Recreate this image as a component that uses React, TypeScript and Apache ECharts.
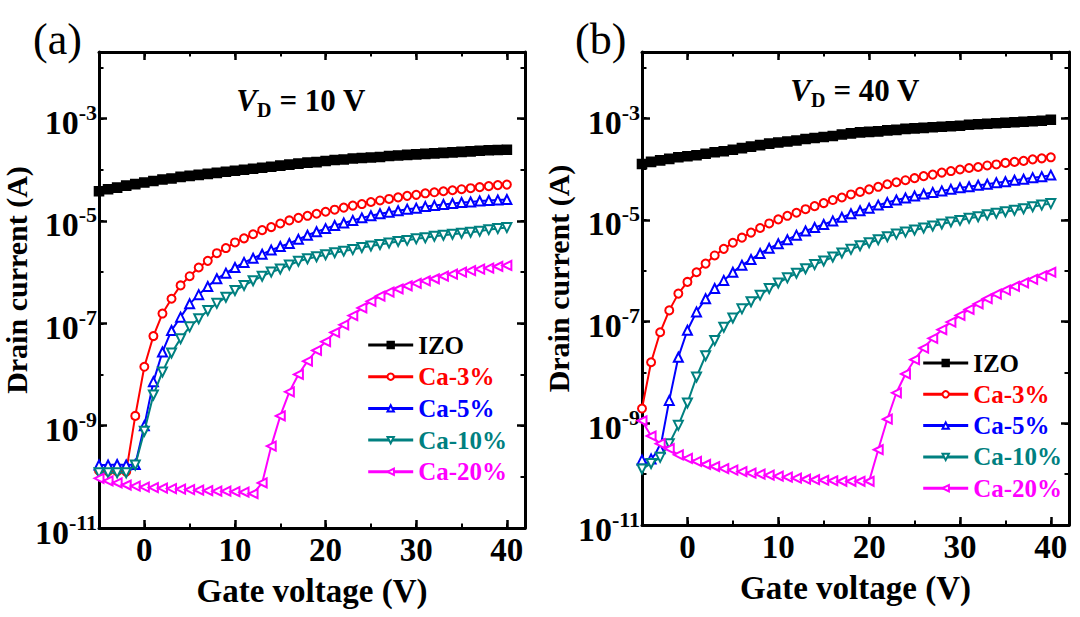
import React, { useEffect, useRef } from 'react';
import * as echarts from 'echarts';

const FONT = '"Liberation Serif", "Times New Roman", serif';

// Gate voltage (V), one point per volt
const gateVoltage = [
  -5, -4, -3, -2, -1, 0, 1, 2, 3, 4,
  5, 6, 7, 8, 9, 10, 11, 12, 13, 14,
  15, 16, 17, 18, 19, 20, 21, 22, 23, 24,
  25, 26, 27, 28, 29, 30, 31, 32, 33, 34,
  35, 36, 37, 38, 39, 40,
];

// Drain current, stored as log10(I / A)
// Panel (a): VD = 10 V
const izoVd10Log = [
  -4.42, -4.38, -4.35, -4.31, -4.28, -4.25, -4.22, -4.19, -4.17, -4.14,
  -4.12, -4.10, -4.08, -4.06, -4.04, -4.02, -4.00, -3.98, -3.96, -3.94,
  -3.92, -3.90, -3.88, -3.86, -3.85, -3.83, -3.81, -3.80, -3.78, -3.77,
  -3.76, -3.75, -3.73, -3.72, -3.71, -3.70, -3.69, -3.68, -3.67, -3.66,
  -3.65, -3.64, -3.63, -3.62, -3.615, -3.61,
];
const ca3Vd10Log = [
  -9.88, -9.89, -9.89, -9.90, -8.81, -7.85, -7.25, -6.81, -6.52, -6.26,
  -6.08, -5.91, -5.78, -5.63, -5.53, -5.42, -5.34, -5.26, -5.18, -5.12,
  -5.05, -4.99, -4.94, -4.90, -4.86, -4.82, -4.78, -4.74, -4.70, -4.67,
  -4.63, -4.60, -4.57, -4.54, -4.51, -4.49, -4.46, -4.44, -4.42, -4.40,
  -4.38, -4.36, -4.34, -4.32, -4.30, -4.29,
];
const ca5Vd10Log = [
  -9.77, -9.77, -9.76, -9.77, -9.76, -9.00, -8.14, -7.56, -7.14, -6.88,
  -6.62, -6.44, -6.28, -6.13, -6.02, -5.91, -5.81, -5.73, -5.65, -5.57,
  -5.50, -5.44, -5.36, -5.28, -5.21, -5.15, -5.09, -5.04, -4.99, -4.94,
  -4.90, -4.86, -4.83, -4.80, -4.77, -4.75, -4.72, -4.70, -4.68, -4.66,
  -4.64, -4.63, -4.61, -4.60, -4.59, -4.58,
];
const ca10Vd10Log = [
  -9.92, -9.92, -9.92, -9.92, -9.77, -9.11, -8.40, -7.95, -7.58, -7.30,
  -7.07, -6.91, -6.75, -6.61, -6.49, -6.36, -6.26, -6.17, -6.08, -6.00,
  -5.94, -5.86, -5.79, -5.74, -5.70, -5.66, -5.62, -5.59, -5.56, -5.52,
  -5.49, -5.46, -5.43, -5.40, -5.38, -5.35, -5.33, -5.30, -5.28, -5.26,
  -5.24, -5.22, -5.20, -5.17, -5.15, -5.13,
];
const ca20Vd10Log = [
  -10.03, -10.08, -10.12, -10.16, -10.18, -10.20, -10.21, -10.22, -10.23, -10.24,
  -10.25, -10.26, -10.27, -10.28, -10.28, -10.29, -10.30, -10.33, -10.12, -9.40,
  -8.81, -8.34, -8.00, -7.74, -7.53, -7.36, -7.18, -7.03, -6.85, -6.70,
  -6.57, -6.47, -6.39, -6.33, -6.27, -6.22, -6.17, -6.13, -6.08, -6.04,
  -6.00, -5.97, -5.94, -5.92, -5.89, -5.87,
];

// Panel (b): VD = 40 V
const izoVd40Log = [
  -3.90, -3.86, -3.83, -3.80, -3.77, -3.75, -3.73, -3.70, -3.67, -3.65,
  -3.62, -3.59, -3.56, -3.53, -3.50, -3.48, -3.46, -3.44, -3.41, -3.39,
  -3.37, -3.35, -3.32, -3.30, -3.28, -3.27, -3.26, -3.24, -3.23, -3.21,
  -3.20, -3.19, -3.18, -3.17, -3.16, -3.15, -3.13, -3.12, -3.11, -3.10,
  -3.09, -3.08, -3.07, -3.06, -3.05, -3.03,
];
const ca3Vd40Log = [
  -8.71, -7.80, -7.21, -6.78, -6.45, -6.22, -6.03, -5.86, -5.70, -5.57,
  -5.45, -5.35, -5.25, -5.16, -5.07, -4.99, -4.92, -4.86, -4.79, -4.73,
  -4.67, -4.61, -4.56, -4.50, -4.45, -4.40, -4.35, -4.30, -4.26, -4.22,
  -4.18, -4.14, -4.11, -4.07, -4.04, -4.01, -3.98, -3.96, -3.93, -3.91,
  -3.88, -3.86, -3.84, -3.81, -3.79, -3.77,
];
const ca5Vd40Log = [
  -9.72, -9.70, -9.50, -8.55, -7.70, -7.17, -6.81, -6.55, -6.35, -6.19,
  -6.03, -5.89, -5.78, -5.66, -5.56, -5.47, -5.39, -5.30, -5.22, -5.15,
  -5.09, -5.02, -4.95, -4.88, -4.82, -4.77, -4.71, -4.66, -4.61, -4.57,
  -4.53, -4.49, -4.46, -4.43, -4.40, -4.37, -4.35, -4.32, -4.30, -4.27,
  -4.25, -4.22, -4.20, -4.17, -4.15, -4.12,
];
const ca10Vd40Log = [
  -9.90, -9.79, -9.67, -9.40, -9.04, -8.60, -8.09, -7.67, -7.37, -7.11,
  -6.93, -6.75, -6.61, -6.48, -6.35, -6.24, -6.14, -6.05, -5.96, -5.88,
  -5.81, -5.73, -5.65, -5.58, -5.51, -5.45, -5.39, -5.33, -5.28, -5.24,
  -5.20, -5.16, -5.12, -5.08, -5.04, -5.01, -4.97, -4.94, -4.90, -4.87,
  -4.84, -4.81, -4.78, -4.74, -4.71, -4.68,
];
const ca20Vd40Log = [
  -8.95, -9.25, -9.40, -9.50, -9.62, -9.69, -9.75, -9.81, -9.85, -9.89,
  -9.92, -9.95, -9.98, -10.00, -10.02, -10.04, -10.06, -10.08, -10.10, -10.11,
  -10.12, -10.13, -10.14, -10.14, -10.14, -10.14, -9.52, -8.92, -8.40, -8.03,
  -7.75, -7.52, -7.33, -7.16, -7.01, -6.88, -6.76, -6.65, -6.55, -6.46,
  -6.38, -6.31, -6.24, -6.17, -6.10, -6.03,
];

const seriesNames = ['IZO', 'Ca-3%', 'Ca-5%', 'Ca-10%', 'Ca-20%'];
const seriesColors = ['#000000', '#ff0000', '#0000ff', '#008080', '#ff00ff'];
const seriesSymbols = ['rect', 'emptyCircle', 'emptyTriangle', 'emptyTriangle', 'emptyTriangle'];
const seriesSymbolRotate = [0, 0, 0, 180, 90];
const seriesSymbolSize = [9, 8, 9, 9, 9];

const panelLabels = ['(a)', '(b)'];
const drainVoltages = ['10', '40'];
const panelData = [
  [izoVd10Log, ca3Vd10Log, ca5Vd10Log, ca10Vd10Log, ca20Vd10Log],
  [izoVd40Log, ca3Vd40Log, ca5Vd40Log, ca10Vd40Log, ca20Vd40Log],
];

const xTickLabels = [0, 10, 20, 30, 40];
const yDecadeLabels = [-11, -9, -7, -5, -3];
const X_MIN = -5;
const X_MAX = 42;
const Y_MIN = 1e-11;
const Y_MAX = 2e-2;

// layout
const grids = [
  { left: 97, top: 52, width: 428, height: 476 },
  { left: 642, top: 52, width: 427, height: 473 },
];
const legendPos = [
  { left: 366.7, top: 332.5, gap: 6.7 },
  { left: 921.7, top: 350.5, gap: 6.3 },
];
const labelPos = [
  { x: 33, y: 39 },
  { x: 575, y: 39 },
];
const vdPos = [
  { x: 301, y: 100 },
  { x: 855, y: 90 },
];

const black = '#000';
const axisLineStyle = { color: black, width: 3 };

function buildOption(): any {
  const xAxis: any[] = [];
  const yAxis: any[] = [];
  const series: any[] = [];
  const legend: any[] = [];
  const graphic: any[] = [];

  grids.forEach((g, p) => {
    const baseX = {
      type: 'value',
      gridIndex: p,
      min: X_MIN,
      max: X_MAX,
      splitLine: { show: false },
    };
    // bottom major
    xAxis.push({
      ...baseX,
      position: 'bottom',
      splitNumber: 5,
      axisLine: { show: true, onZero: false, lineStyle: axisLineStyle },
      axisTick: { show: true, inside: true, length: 8, lineStyle: { color: black, width: 2.5 } },
      axisLabel: {
        show: true,
        margin: 5,
        color: black,
        fontFamily: FONT,
        fontWeight: 'bold',
        fontSize: 33,
        formatter: (v: number) => (xTickLabels.includes(v) ? String(v) : ''),
      },
      name: 'Gate voltage (V)',
      nameLocation: 'middle',
      nameGap: 46,
      nameTextStyle: { fontFamily: FONT, fontWeight: 'bold', fontSize: 33, color: black },
    });
    // bottom minor
    xAxis.push({
      ...baseX,
      position: 'bottom',
      interval: 5,
      axisLine: { show: false, onZero: false },
      axisTick: { show: true, inside: true, length: 4.5, lineStyle: { color: black, width: 2 } },
      axisLabel: { show: false },
    });
    // top major
    xAxis.push({
      ...baseX,
      position: 'top',
      splitNumber: 5,
      axisLine: { show: true, onZero: false, lineStyle: axisLineStyle },
      axisTick: { show: true, inside: true, length: 8, lineStyle: { color: black, width: 2.5 } },
      axisLabel: { show: false },
    });
    // top minor
    xAxis.push({
      ...baseX,
      position: 'top',
      interval: 5,
      axisLine: { show: false, onZero: false },
      axisTick: { show: true, inside: true, length: 4.5, lineStyle: { color: black, width: 2 } },
      axisLabel: { show: false },
    });

    const baseLog = {
      type: 'log',
      logBase: 10,
      gridIndex: p,
      min: Y_MIN,
      max: Y_MAX,
      splitLine: { show: false },
      minorTick: { show: false },
    };
    // left log axis (data axis)
    yAxis.push({
      ...baseLog,
      position: 'left',
      axisLine: { show: true, onZero: false, lineStyle: axisLineStyle },
      axisTick: { show: true, inside: true, length: 4.5, lineStyle: { color: black, width: 2 } },
      axisLabel: {
        show: true,
        margin: 2,
        formatter: (v: number) => {
          const lg = Math.log10(v);
          const e = Math.round(lg);
          if (Math.abs(lg - e) > 1e-6 || !yDecadeLabels.includes(e)) return '';
          return `{b|10}{s|${e}}`;
        },
        rich: {
          b: { fontFamily: FONT, fontWeight: 'bold', fontSize: 34, lineHeight: 34, padding: [8, 0, 0, 0], color: black },
          s: { fontFamily: FONT, fontWeight: 'bold', fontSize: 22, lineHeight: 32, verticalAlign: 'top', color: black },
        },
      },
      name: 'Drain current (A)',
      nameLocation: 'middle',
      nameRotate: 90,
      nameGap: 61,
      nameTextStyle: {
        fontFamily: FONT,
        fontWeight: 'bold',
        fontSize: 30,
        color: black,
        padding: [0, 0, 0, 20],
      },
    });
    // right log axis (mirror)
    yAxis.push({
      ...baseLog,
      position: 'right',
      axisLine: { show: true, onZero: false, lineStyle: axisLineStyle },
      axisTick: { show: true, inside: true, length: 4.5, lineStyle: { color: black, width: 2 } },
      axisLabel: { show: false },
    });
    // long ticks on the labelled decades (exponent scale, decorative)
    const baseExp = {
      type: 'value',
      gridIndex: p,
      min: Math.log10(Y_MIN),
      max: Math.log10(Y_MAX),
      interval: 2,
      splitLine: { show: false },
      axisLine: { show: false, onZero: false },
      axisTick: { show: true, inside: true, length: 8, lineStyle: { color: black, width: 2.5 } },
      axisLabel: { show: false },
    };
    yAxis.push({ ...baseExp, position: 'left' });
    yAxis.push({ ...baseExp, position: 'right' });

    panelData[p].forEach((logs, i) => {
      series.push({
        type: 'line',
        name: seriesNames[i],
        xAxisIndex: 4 * p,
        yAxisIndex: 4 * p,
        data: gateVoltage.map((v, k) => [v, Math.pow(10, logs[k])]),
        symbol: seriesSymbols[i],
        symbolSize: seriesSymbolSize[i],
        symbolRotate: seriesSymbolRotate[i],
        showSymbol: true,
        lineStyle: { color: seriesColors[i], width: 2 },
        itemStyle: { color: seriesColors[i], borderColor: seriesColors[i], borderWidth: 1.6 },
        emphasis: { disabled: true },
        z: 2 + i,
      });
    });

    legend.push({
      orient: 'vertical',
      left: legendPos[p].left,
      top: legendPos[p].top,
      padding: 0,
      itemWidth: 45,
      itemHeight: 8,
      itemGap: legendPos[p].gap,
      selectedMode: false,
      lineStyle: { width: 3 },
      textStyle: { fontFamily: FONT, fontWeight: 'bold', fontSize: 25, lineHeight: 25 },
      data: seriesNames.map((n, i) => ({ name: n, textStyle: { color: seriesColors[i] } })),
    });

    graphic.push({
      type: 'text',
      x: labelPos[p].x,
      y: labelPos[p].y,
      style: {
        text: panelLabels[p],
        fontFamily: FONT,
        fontSize: 44,
        fill: black,
        align: 'left',
        verticalAlign: 'middle',
        textAlign: 'left',
        textVerticalAlign: 'middle',
      },
    });
    graphic.push({
      type: 'text',
      x: vdPos[p].x,
      y: vdPos[p].y,
      style: {
        text: `{v|V}{d|D}{r| = ${drainVoltages[p]} V}`,
        align: 'center',
        verticalAlign: 'middle',
        textAlign: 'center',
        textVerticalAlign: 'middle',
        fill: black,
        rich: {
          v: { fontFamily: FONT, fontWeight: 'bold', fontStyle: 'italic', fontSize: 31, lineHeight: 40, fill: black },
          d: { fontFamily: FONT, fontWeight: 'bold', fontSize: 20, lineHeight: 16, verticalAlign: 'bottom', fill: black },
          r: { fontFamily: FONT, fontWeight: 'bold', fontSize: 31, lineHeight: 40, fill: black },
        },
      },
    });
  });

  return {
    animation: false,
    backgroundColor: '#ffffff',
    grid: grids.map((g) => ({ ...g, containLabel: false })),
    xAxis,
    yAxis,
    series,
    legend,
    graphic,
  };
}

export default function App() {
  const ref = useRef<HTMLDivElement>(null);
  useEffect(() => {
    if (!ref.current) return;
    const chart = echarts.init(ref.current, null, { renderer: 'svg' });
    chart.setOption(buildOption());
    return () => chart.dispose();
  }, []);
  return (
    <div
      ref={ref}
      style={{ position: 'absolute', left: 0, top: 0, width: 1080, height: 617, background: '#fff' }}
    />
  );
}
